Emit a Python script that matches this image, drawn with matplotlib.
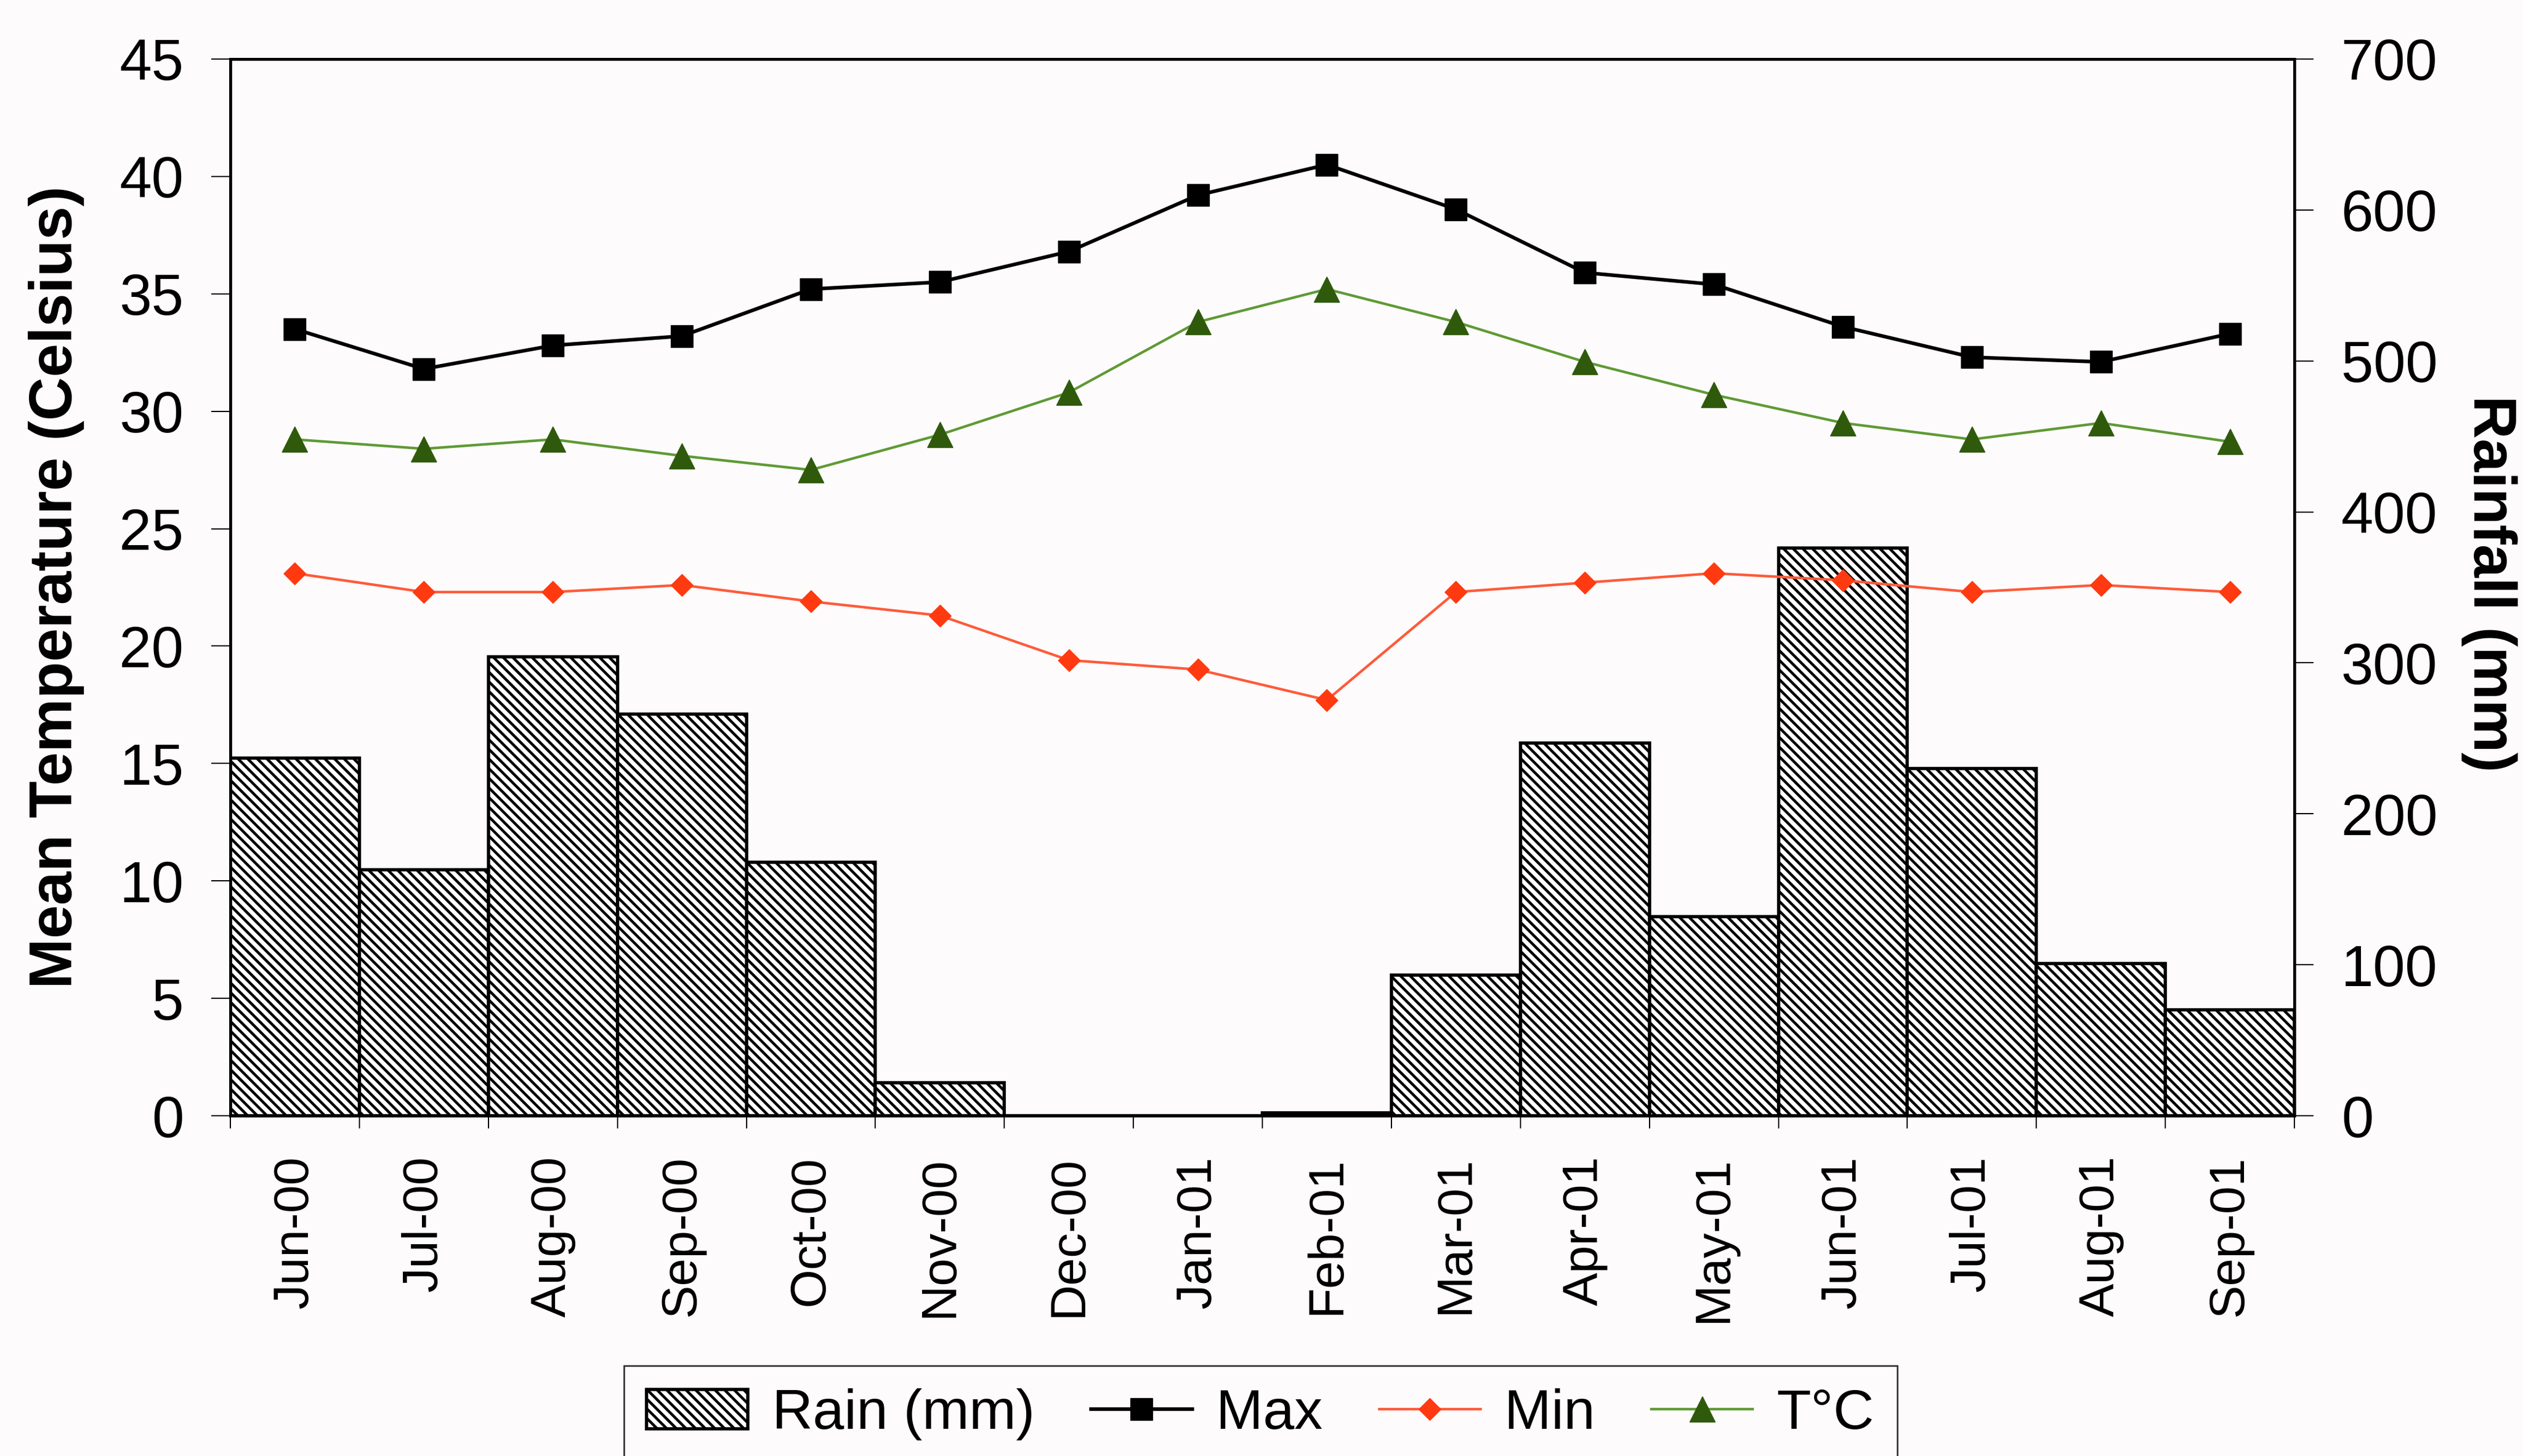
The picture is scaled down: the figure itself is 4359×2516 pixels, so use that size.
import numpy as np
import matplotlib
matplotlib.use("Agg")
import matplotlib.pyplot as plt

# monthly climate record, Jun 2000 - Sep 2001
months = ["Jun-00", "Jul-00", "Aug-00", "Sep-00", "Oct-00", "Nov-00", "Dec-00",
          "Jan-01", "Feb-01", "Mar-01", "Apr-01", "May-01", "Jun-01", "Jul-01",
          "Aug-01", "Sep-01"]
rain_mm = [237, 163, 304, 266, 168, 22, 0, 0, 2, 93, 247, 132, 376, 230, 101, 70]
t_max = [33.5, 31.8, 32.8, 33.2, 35.2, 35.5, 36.8, 39.2, 40.5, 38.6, 35.9, 35.4,
         33.6, 32.3, 32.1, 33.3]
t_min = [23.1, 22.3, 22.3, 22.6, 21.9, 21.3, 19.4, 19.0, 17.7, 22.3, 22.7, 23.1,
         22.8, 22.3, 22.6, 22.3]
t_mean = [28.8, 28.4, 28.8, 28.1, 27.5, 29.0, 30.8, 33.8, 35.2, 33.8, 32.1, 30.7,
          29.5, 28.8, 29.5, 28.7]

temp_ticks = np.arange(0, 50, 5)
rain_ticks = np.arange(0, 800, 100)

plt.rcParams["font.family"] = ["Liberation Sans", "DejaVu Sans"]
plt.rcParams["hatch.linewidth"] = 3.4

bg = "#fdfbfb"
fig = plt.figure(figsize=(43.59, 25.16), dpi=100, facecolor=bg)
ax_rain = fig.add_axes([0.0913, 0.2337, 0.8181, 0.7258])
ax_rain.set_facecolor(bg)

x = np.arange(len(months))
bars = ax_rain.bar(x, rain_mm, width=1.0, facecolor="white", edgecolor="black",
                   hatch="\\\\", linewidth=4, label="Rain (mm)", zorder=2)
ax_rain.set_ylim(0, 700)
ax_rain.set_xlim(-0.5, len(months) - 0.5)

# category labels centred, tick marks between categories
ax_rain.set_xticks(x)
ax_rain.set_xticklabels(months, rotation=90, fontsize=62)
ax_rain.set_xticks(np.arange(-0.5, len(months)), minor=True)
ax_rain.tick_params(axis="x", which="major", length=0, pad=50)
ax_rain.tick_params(axis="x", which="minor", length=16, width=1.5)

ax_temp = ax_rain.twinx()
ln_max, = ax_temp.plot(x, t_max, color="black", lw=4.5, marker="s", ms=28,
                       label="Max")
ln_min, = ax_temp.plot(x, t_min, color="#ff5a3a", lw=3.2, marker="D", ms=19,
                       mfc="#ff3a10", mec="#ff3a10", label="Min")
ln_mean, = ax_temp.plot(x, t_mean, color="#5f9a35", lw=3.2, marker="^", ms=32,
                        mfc="#2f5a0c", mec="#2f5a0c", label="T°C")
ax_temp.set_ylim(0, 45)
ax_temp.set_yticks(temp_ticks)

# temperature on the left, rainfall on the right
ax_temp.yaxis.tick_left()
ax_rain.yaxis.tick_right()
ax_rain.set_yticks(rain_ticks)
for a in (ax_rain, ax_temp):
    a.tick_params(axis="y", labelsize=72, length=24, width=1.5, pad=34)
    for s in a.spines.values():
        s.set_linewidth(3.5)
        s.set_color("black")

fig.text(0.0223, 0.5966, "Mean Temperature (Celsius)", rotation=90,
         ha="center", va="center", fontsize=75, fontweight="bold")
fig.text(0.9865, 0.5994, "Rainfall (mm)", rotation=270,
         ha="center", va="center", fontsize=74, fontweight="bold")

leg = fig.legend(handles=[bars, ln_max, ln_min, ln_mean], ncol=4,
                 loc="upper left", bbox_to_anchor=(0.2473, 0.062),
                 fontsize=70, frameon=True, fancybox=False, borderaxespad=0,
                 handlelength=1.8, handletextpad=0.43, columnspacing=1.0,
                 markerscale=1.0)
leg.get_frame().set_edgecolor("black")
leg.get_frame().set_linewidth(2)
leg.get_frame().set_facecolor(bg)

fig.savefig("out.png", dpi=100, facecolor=bg)
